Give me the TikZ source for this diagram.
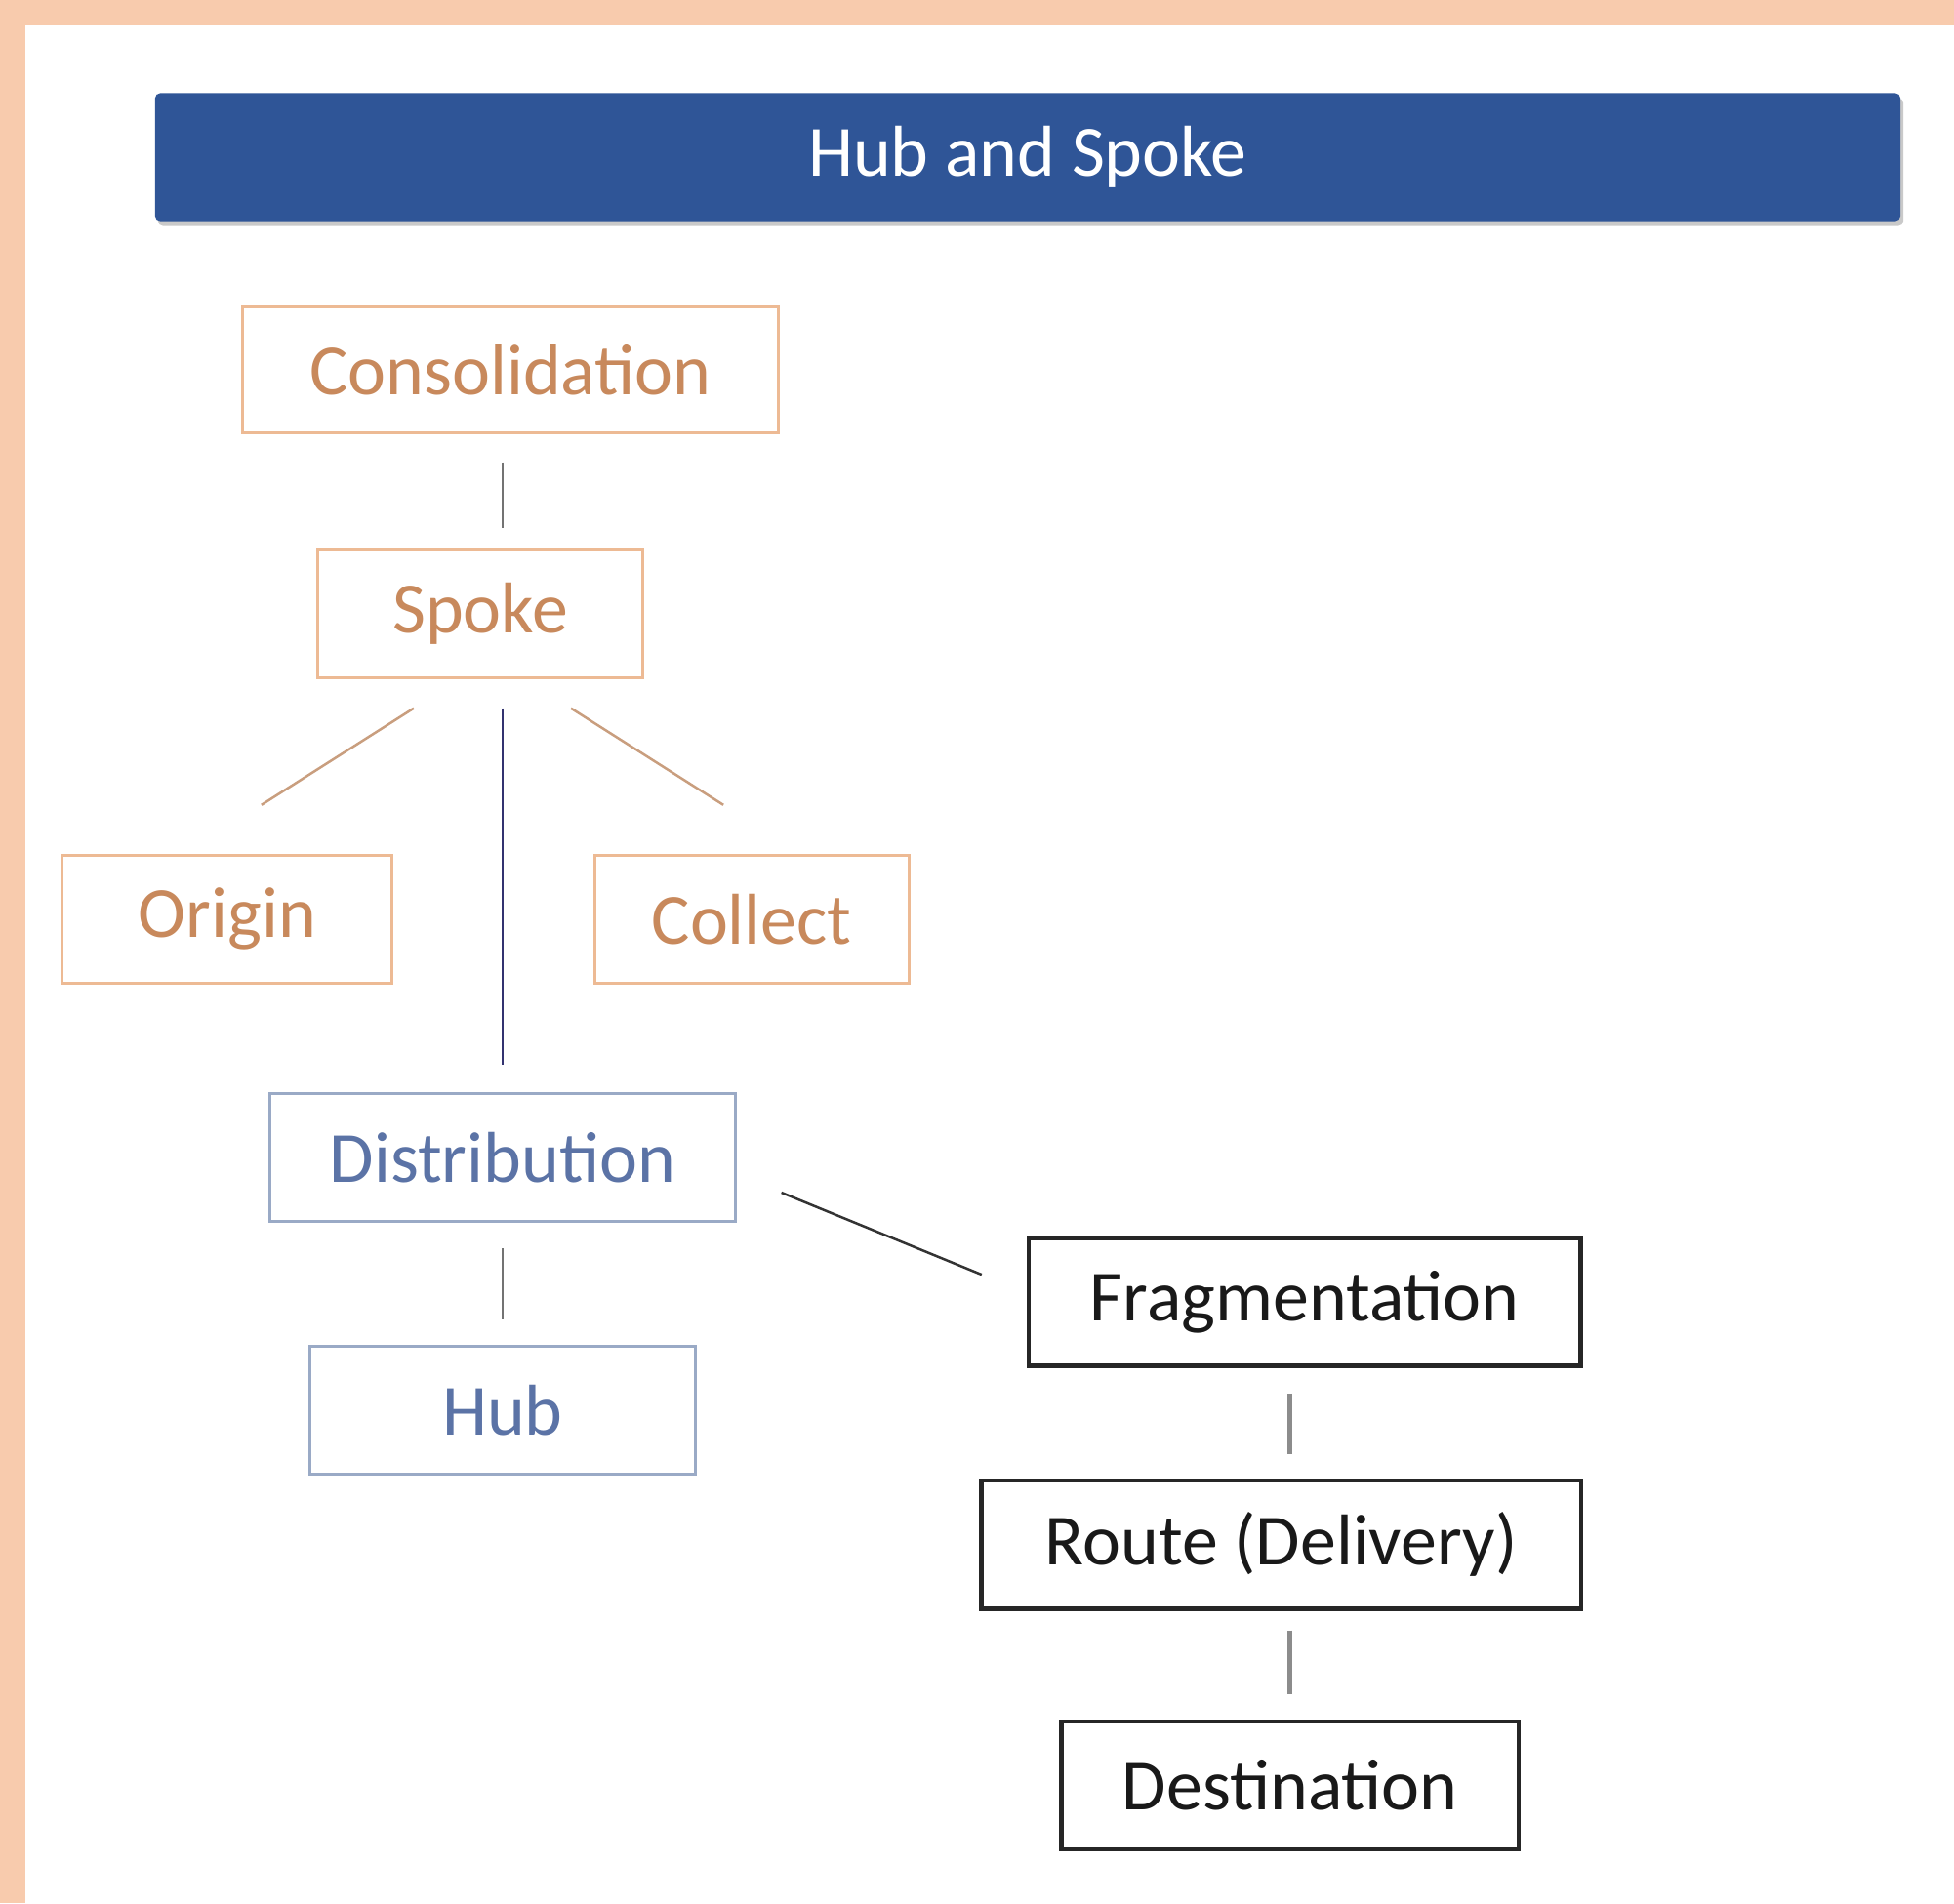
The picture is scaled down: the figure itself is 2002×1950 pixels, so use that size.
\documentclass[tikz,border=0pt]{standalone}
\usepackage{fontspec}
\setmainfont{Carlito}
\usetikzlibrary{positioning,shadows}

\definecolor{peach}{HTML}{F8CBAD}
\definecolor{barblue}{HTML}{2F5597}
\definecolor{orangetext}{HTML}{C8895C}
\definecolor{orangeline}{HTML}{EDBA94}
\definecolor{bluetext}{HTML}{5B73A6}
\definecolor{blueline}{HTML}{9AAAC6}

\begin{document}
\begin{tikzpicture}[x=0.01cm,y=-0.01cm]

\tikzstyle{block} = [rectangle, draw, text centered, inner sep=0pt,
    minimum height=1.31cm, font=\fontsize{21}{25}\selectfont]
\tikzstyle{spokebox} = [block, draw=orangeline, text=orangetext, line width=0.03cm]
\tikzstyle{hubbox} = [block, draw=blueline, text=bluetext, line width=0.03cm]
\tikzstyle{routebox} = [block, draw=black!85, text=black!90, line width=0.045cm]
\tikzstyle{titlebar} = [rectangle, fill=barblue, text=white, minimum width=17.87cm,
    minimum height=1.31cm, rounded corners=0.05cm, font=\fontsize{21}{25}\selectfont,
    drop shadow={shadow xshift=0.03cm, shadow yshift=-0.05cm, fill=black!60, opacity=0.35}]
\tikzstyle{line} = [draw, line width=0.025cm]

% page
\fill [peach] (0,0) rectangle (2002,1950);
\fill [white] (26,26) rectangle (2002,1950);
\useasboundingbox (0,0) rectangle (2002,1950);

\node [titlebar] (title) at (1053,161) {Hub and Spoke};

\node [spokebox, minimum width=5.49cm, minimum height=1.28cm] (cons) at (523,379) {Consolidation};
\node [spokebox, minimum width=3.33cm, below=1.17cm of cons, xshift=-0.31cm] (spoke) {Spoke};
\node [spokebox, minimum width=3.38cm, below=1.79cm of spoke, xshift=-2.59cm] (origin) {Origin};
\node [spokebox, minimum width=3.22cm, below=1.79cm of spoke, xshift=2.78cm] (collect) {Collect};
\node [hubbox, minimum width=4.76cm, below=4.23cm of spoke, xshift=0.23cm] (dist) {Distribution};
\node [hubbox, minimum width=3.94cm, below=1.25cm of dist] (hub) {Hub};
\node [routebox, minimum width=5.65cm, right=2.97cm of dist, yshift=-1.48cm] (frag) {Fragmentation};
\node [routebox, minimum width=6.14cm, below=1.13cm of frag, xshift=-0.24cm] (route) {Route (Delivery)};
\node [routebox, minimum width=4.68cm, below=1.11cm of route, xshift=0.09cm] (dest) {Destination};

% spoke side
\path [line, black!55, shorten <=0.29cm, shorten >=0.21cm]
  (cons.south -| dist.north) -- (spoke.north -| dist.north);
\path [line, orangeline!85!black] ([shift={(-68,30)}]spoke.south) -- ([shift={(35,-50)}]origin.north);
\path [line, orangeline!85!black] ([shift={(93,30)}]spoke.south) -- ([shift={(-29,-50)}]collect.north);
\path [line, black!70!blue!80, shorten <=0.30cm, shorten >=0.28cm]
  (spoke.south -| dist.north) -- (dist.north);

% hub side
\path [line, black!55, shorten <=0.26cm, shorten >=0.26cm] (dist.south) -- (hub.north);
\path [line, black!80] ([shift={(46,36)}]dist.east) -- ([shift={(-46,-28)}]frag.west);
\path [line, black!45, line width=0.045cm, shorten <=0.26cm, shorten >=0.25cm]
  (frag.south -| dest.north) -- (route.north -| dest.north);
\path [line, black!45, line width=0.045cm, shorten <=0.20cm, shorten >=0.26cm]
  (route.south -| dest.north) -- (dest.north);
\end{tikzpicture}
\end{document}
